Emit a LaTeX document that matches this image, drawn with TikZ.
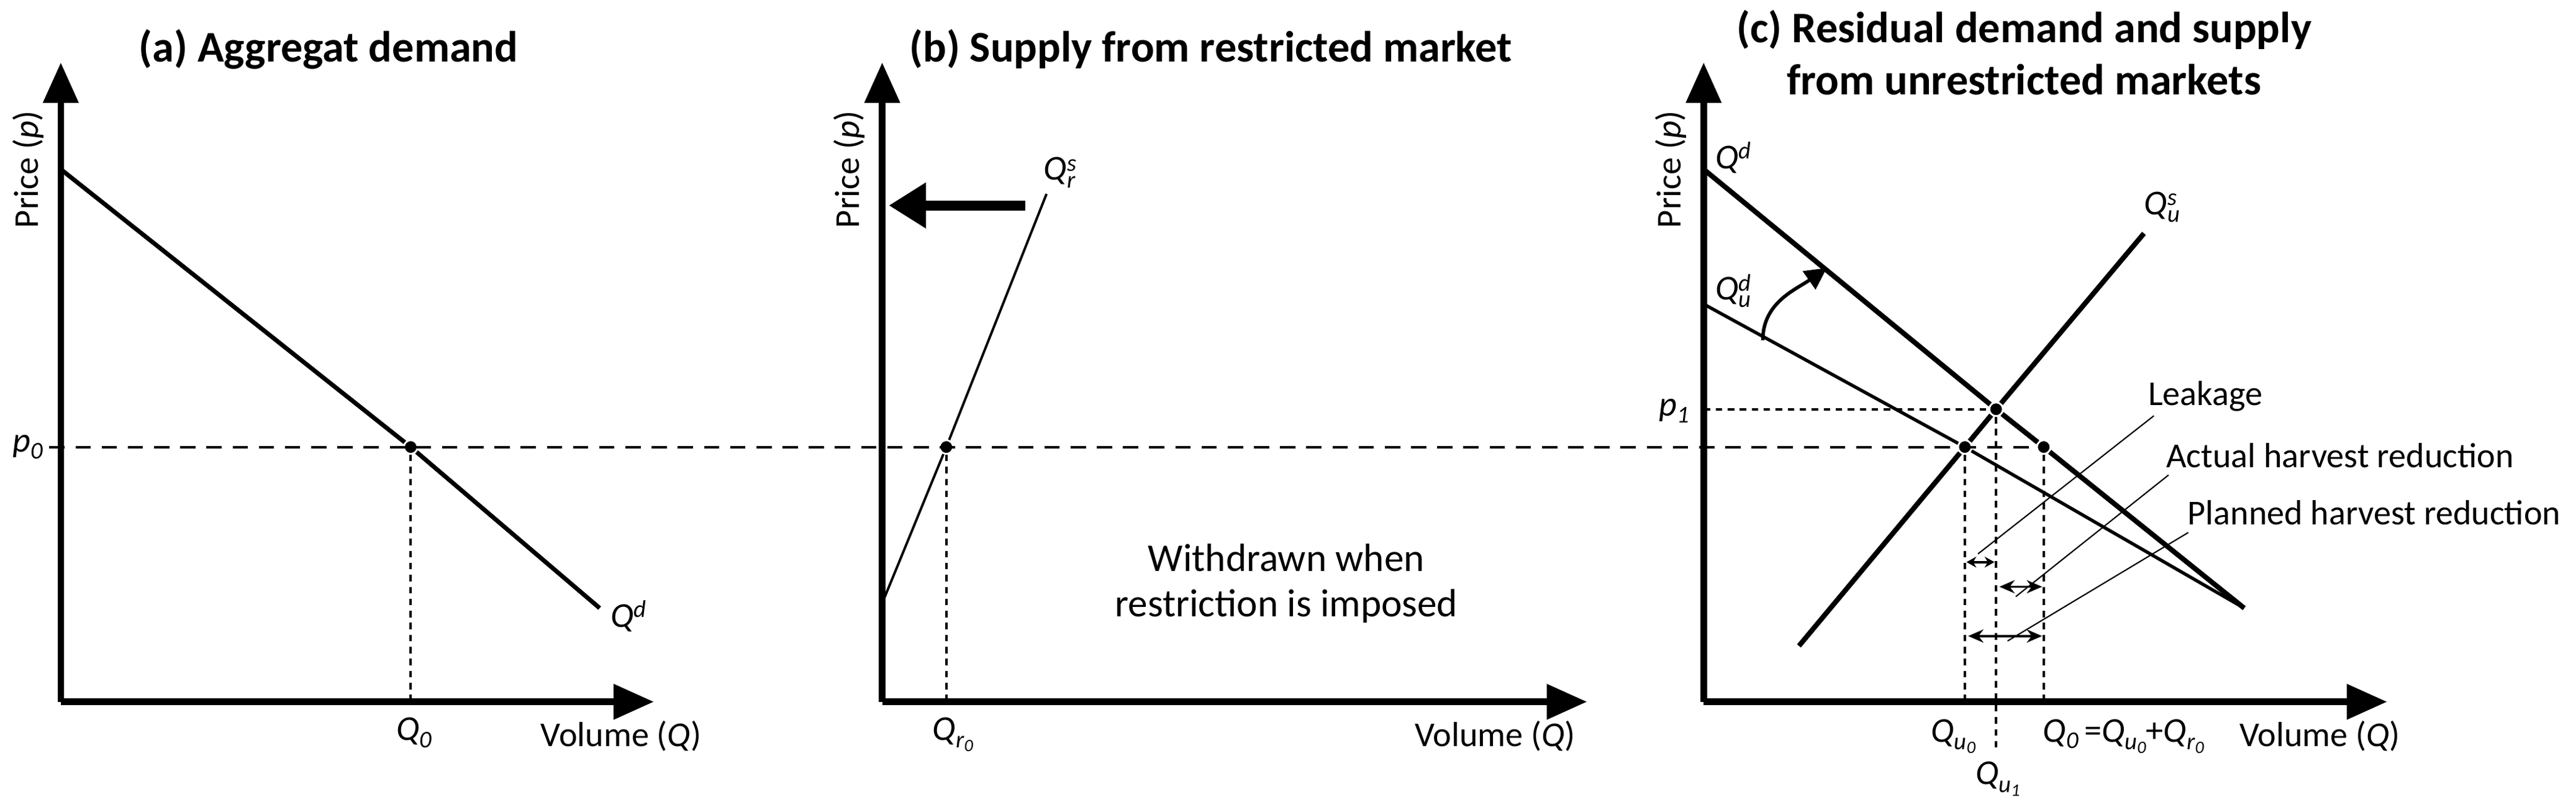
\documentclass[tikz,border=0pt]{standalone}
\usepackage{fontspec}
\setmainfont{Carlito}
\usetikzlibrary{arrows.meta}
\newcommand{\QQ}[2]{\textit{Q}\rlap{\raisebox{0.55ex}{\fontsize{11}{11}\selectfont\textit{#1}}}\raisebox{-0.45ex}{\fontsize{11}{11}\selectfont\textit{#2}}\hspace{0.3em}}
\newcommand{\Qsub}[2]{\textit{Q}\raisebox{-0.45ex}{\fontsize{11}{11}\selectfont\textit{#1}\raisebox{-0.35ex}{\fontsize{8}{8}\selectfont\textit{#2}}}}
\begin{document}
\begin{tikzpicture}[x=0.026454cm,y=-0.026454cm,
  axis/.style={line width=3pt,-{Triangle[length=0.65cm,width=0.55cm]}},
  curve/.style={line width=2pt},
  thin curve/.style={line width=1.1pt},
  dot/.style={circle,fill=black,draw=white,line width=0.8pt,inner sep=2.2pt},
  dotted v/.style={line width=1.1pt,dash pattern=on 3pt off 2.5pt},
  dashed h/.style={line width=1.1pt,dash pattern=on 7pt off 5pt},
  lbl/.style={font=\fontsize{16}{19}\selectfont,inner sep=1pt},
  title/.style={font=\fontsize{20}{24}\selectfont\bfseries,align=center},
  leader/.style={line width=0.6pt},
  dbl/.style={line width=1.1pt,{Stealth[length=7pt,width=6pt]}-{Stealth[length=7pt,width=6pt]}},
  dbls/.style={line width=1.1pt,{Stealth[length=4.5pt,width=5pt]}-{Stealth[length=4.5pt,width=5pt]}}]
\useasboundingbox (0,0) rectangle (1568,494);
% ---------- titles
\node[title] (ta) at (200,30) {(a) Aggregat demand};
\node[title] (tb) at (737,30) {(b) Supply from restricted market};
\node[title] (tc) at (1232,32) {(c) Residual demand and supply\\from unrestricted markets};
% ---------- panel a
\coordinate (oa) at (37,427);
\coordinate (ya) at (37,38);
\coordinate (xa) at (398,427);
\coordinate (da1) at (37,103);
\coordinate (da2) at (365,370);
\node[dot] (ea) at (250,272) {};
\coordinate (ea0) at (250,427);
\draw[dotted v] (ea) -- (ea0);
\draw[curve] (da1) -- (ea) -- (da2);
\draw[axis] (oa) -- (ya);
\draw[axis] (oa) -- (xa);
\node[lbl,rotate=90] (pa) at (17,103) {Price (\textit{p})};
\node[lbl] (p0) at (17,272) {\textit{p\raisebox{-0.4ex}{\fontsize{11}{11}\selectfont 0}}};
\node[lbl] (q0a) at (252,447) {\Qsub{0}{}};
\node[lbl,anchor=west] (qda) at (370,375) {\textit{Q}\raisebox{0.6ex}{\fontsize{11}{11}\selectfont\textit{d}}};
\node[lbl] (va) at (378,448) {Volume (\textit{Q})};
% ---------- panel b
\coordinate (ob) at (537,427);
\coordinate (yb) at (537,38);
\coordinate (xb) at (966,427);
\coordinate (sb1) at (537,367);
\coordinate (sb2) at (637,118);
\node[dot] (eb) at (576,272) {};
\coordinate (eb0) at (576,427);
\draw[dotted v] (eb) -- (eb0);
\draw[thin curve] (sb1) -- (eb) -- (sb2);
\coordinate (wa1) at (624,125);
\coordinate (wa2) at (541,125);
\draw[line width=4.5pt,-{Triangle[length=0.6cm,width=0.7cm]}] (wa1) -- (wa2);
\draw[axis] (ob) -- (yb);
\draw[axis] (ob) -- (xb);
\node[lbl,rotate=90] (pb) at (517,103) {Price (\textit{p})};
\node[lbl] (qrsb) at (645,105) {\QQ{s}{r}};
\node[lbl] (qr0) at (580,447) {\Qsub{r}{0}};
\node[lbl,align=center,font=\fontsize{18}{21}\selectfont] (wd) at (783,355) {Withdrawn when\\restriction is imposed};
\node[lbl] (vb) at (910,448) {Volume (\textit{Q})};
% ---------- panel c
\coordinate (oc) at (1037,427);
\coordinate (yc) at (1037,38);
\coordinate (xc) at (1453,427);
\coordinate (dc1) at (1037,103);
\coordinate (dc2) at (1366,370);
\coordinate (uc1) at (1037,185);
\coordinate (sc1) at (1095,393);
\coordinate (sc2) at (1305,142);
\node[dot] (e1) at (1215,249) {};
\node[dot] (e0) at (1196,272) {};
\node[dot] (e2) at (1244,272) {};
\coordinate (p1l) at (1037,249);
\coordinate (e0b) at (1196,427);
\coordinate (e1b) at (1215,455);
\coordinate (e2b) at (1244,427);
\coordinate (dl) at (30,272);
\draw[dashed h] (dl) -- (e2);
\draw[dotted v] (p1l) -- (e1);
\draw[dotted v] (e0) -- (e0b);
\draw[dotted v] (e1) -- (e1b);
\draw[dotted v] (e2) -- (e2b);
\draw[curve,line width=2.3pt] (dc1) -- (e1) -- (e2) -- (dc2);
\draw[thin curve,line width=1.5pt] (uc1) -- (e0) -- (dc2);
\draw[curve,line width=2.3pt] (sc1) -- (e0) -- (e1) -- (sc2);
\coordinate (ca1) at (1073,207);
\coordinate (ca2) at (1112,163);
\draw[line width=1.6pt,-{Triangle[length=0.35cm,width=0.35cm]}] (ca1) to[out=90,in=215] (ca2);
\draw[axis] (oc) -- (yc);
\draw[axis] (oc) -- (xc);
\node[lbl,rotate=90] (pc) at (1017,103) {Price (\textit{p})};
\node[lbl] (p1) at (1019,250) {\textit{p\raisebox{-0.4ex}{\fontsize{11}{11}\selectfont 1}}};
\node[lbl] (qdc) at (1055,96) {\textit{Q}\raisebox{0.6ex}{\fontsize{11}{11}\selectfont\textit{d}}};
\node[lbl] (qudc) at (1055,177) {\QQ{d}{u}};
\node[lbl] (qusc) at (1316,126) {\QQ{s}{u}};
\node[lbl] (qu0) at (1189,448) {\Qsub{u}{0}};
\node[lbl] (qu1) at (1216,474) {\Qsub{u}{1}};
\node[lbl,anchor=west] (q0c) at (1242,448) {\textit{Q\raisebox{-0.4ex}{\fontsize{11}{11}\selectfont 0}}\,=\Qsub{u}{0}+\Qsub{r}{0}};
\node[lbl] (vc) at (1412,448) {Volume (\textit{Q})};
% brackets
\coordinate (l1) at (1197,342); \coordinate (l2) at (1214,342);
\coordinate (a1) at (1217,357); \coordinate (a2) at (1243,357);
\coordinate (b1) at (1198,387); \coordinate (b2) at (1243,387);
\draw[dbls] (l1) -- (l2);
\draw[dbl] (a1) -- (a2);
\draw[dbl] (b1) -- (b2);
\node[lbl,anchor=west] (lk) at (1306,241) {Leakage};
\node[lbl,anchor=west] (ah) at (1317,277) {Actual harvest reduction};
\node[lbl,anchor=west] (ph) at (1330,312) {Planned harvest reduction};
\coordinate (lk0) at (1311,253); \coordinate (lk1) at (1204,337);
\coordinate (ah0) at (1320,289); \coordinate (ah1) at (1227,363);
\coordinate (ph0) at (1332,324); \coordinate (ph1) at (1222,390);
\draw[leader] (lk0) -- (lk1);
\draw[leader] (ah0) -- (ah1);
\draw[leader] (ph0) -- (ph1);
\end{tikzpicture}
\end{document}
